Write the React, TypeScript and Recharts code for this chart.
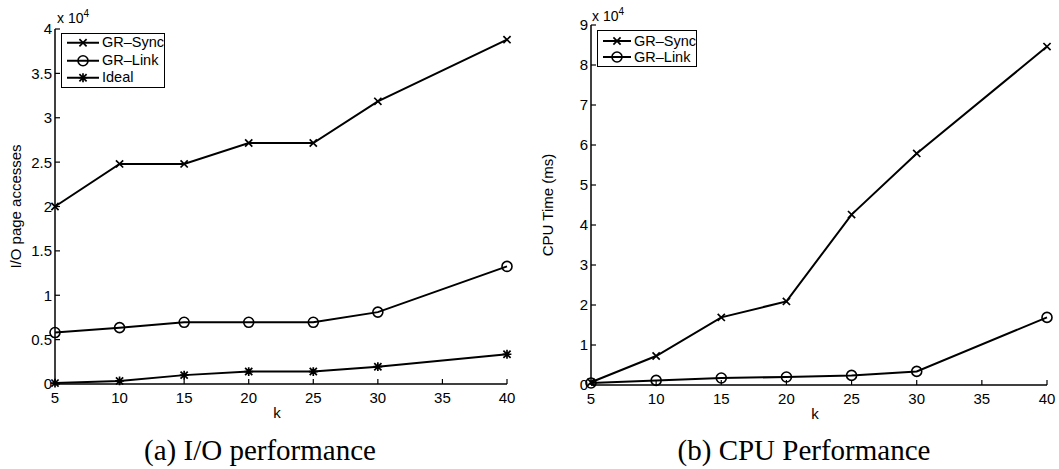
import React from 'react';
import { LineChart, Line, XAxis, YAxis, Legend } from 'recharts';

// k values on the x axis
const kValues = [5, 10, 15, 20, 25, 30, 40];
const kTicks = [5, 10, 15, 20, 25, 30, 35, 40];

// (a) I/O page accesses
const ioSync = [20000, 24800, 24800, 27150, 27150, 31850, 38800];
const ioLink = [5800, 6350, 6950, 6950, 6950, 8100, 13250];
const ioIdeal = [100, 350, 1000, 1400, 1400, 1950, 3350];
const ioTicks = [0, 5000, 10000, 15000, 20000, 25000, 30000, 35000, 40000];

// (b) CPU time (ms)
const cpuSync = [700, 7250, 16900, 20900, 42600, 57900, 84600];
const cpuLink = [500, 1150, 1750, 2000, 2400, 3400, 16900];
const cpuTicks = [0, 10000, 20000, 30000, 40000, 50000, 60000, 70000, 80000, 90000];

const seriesOrder = ['GR–Sync', 'GR–Link', 'Ideal'];

const ioData = kValues.map((k, i) => ({ k, sync: ioSync[i], link: ioLink[i], ideal: ioIdeal[i] }));
const cpuData = kValues.map((k, i) => ({ k, sync: cpuSync[i], link: cpuLink[i] }));

const FONT = '"Liberation Sans", Arial, Helvetica, sans-serif';
const SERIF = '"Liberation Serif", "Times New Roman", serif';

type Kind = 'x' | 'o' | '*';

const kinds: Record<string, Kind> = {
  'GR–Sync': 'x',
  'GR–Link': 'o',
  'Ideal': '*',
};

const Marker = ({ kind, cx, cy }: { kind: Kind; cx: number; cy: number }) => {
  if (kind === 'o') {
    return <circle cx={cx} cy={cy} r={5} fill="none" stroke="#000" strokeWidth={1.6} />;
  }
  const s = 3.6;
  let d = `M${cx - s},${cy - s}L${cx + s},${cy + s}M${cx - s},${cy + s}L${cx + s},${cy - s}`;
  if (kind === '*') {
    const t = 4.4;
    d += `M${cx},${cy - t}L${cx},${cy + t}M${cx - t},${cy}L${cx + t},${cy}`;
  }
  return <path d={d} fill="none" stroke="#000" strokeWidth={1.7} />;
};

const dotFor = (kind: Kind) => (p: any) => (
  <Marker key={`${kind}-${p.index}`} kind={kind} cx={p.cx} cy={p.cy} />
);

const LegendBox = ({ payload, rowH, lineLen, padTop }: any) => {
  const items = [...(payload || [])].sort(
    (a: any, b: any) => seriesOrder.indexOf(a.value) - seriesOrder.indexOf(b.value)
  );
  return (
    <div
      style={{
        border: '1.5px solid #000',
        background: '#fff',
        padding: `${padTop}px 0 ${padTop}px 4px`,
        fontFamily: FONT,
        fontSize: 14.5,
        lineHeight: `${rowH}px`,
        color: '#000',
      }}
    >
      {items.map((entry: any) => (
        <div key={entry.value} style={{ display: 'flex', alignItems: 'center', height: rowH, whiteSpace: 'nowrap' }}>
          <svg width={lineLen + 2} height={rowH}>
            <line x1={1} y1={rowH / 2} x2={lineLen + 1} y2={rowH / 2} stroke="#000" strokeWidth={2} />
            <Marker kind={kinds[entry.value]} cx={lineLen / 2 + 1} cy={rowH / 2} />
          </svg>
          <span style={{ marginLeft: 2 }}>{entry.value}</span>
        </div>
      ))}
    </div>
  );
};

const TICK = 5;

// MATLAB-style inward ticks: tick line drawn inside the box, label outside
const bottomTick = (plotBottom: number) => (p: any) => {
  const c = p.payload.coordinate;
  return (
    <g>
      <line x1={c} x2={c} y1={plotBottom} y2={plotBottom - TICK} stroke="#000" strokeWidth={1.2} />
      <text x={c} y={plotBottom + 19} textAnchor="middle" fill="#000" fontSize={15} fontFamily={FONT}>
        {p.payload.value}
      </text>
    </g>
  );
};

const topTick = (plotTop: number) => (p: any) => {
  const c = p.payload.coordinate;
  return <line x1={c} x2={c} y1={plotTop} y2={plotTop + TICK} stroke="#000" strokeWidth={1.2} />;
};

const leftTick = (plotLeft: number) => (p: any) => {
  const c = p.payload.coordinate;
  return (
    <g>
      <line x1={plotLeft} x2={plotLeft + TICK} y1={c} y2={c} stroke="#000" strokeWidth={1.2} />
      <text x={plotLeft - 3} y={c} dy="0.36em" textAnchor="end" fill="#000" fontSize={15} fontFamily={FONT}>
        {String(p.payload.value / 10000)}
      </text>
    </g>
  );
};

const rightTick = (plotRight: number) => (p: any) => {
  const c = p.payload.coordinate;
  return <line x1={plotRight} x2={plotRight - TICK} y1={c} y2={c} stroke="#000" strokeWidth={1.2} />;
};

const labelStyle = { fill: '#000', fontSize: 15, fontFamily: FONT };

const Exponent = ({ left, top }: { left: number; top: number }) => (
  <div style={{ position: 'absolute', left, top, fontFamily: FONT, fontSize: 14, lineHeight: 1, color: '#000' }}>
    x 10<sup style={{ fontSize: 10, verticalAlign: 6 }}>4</sup>
  </div>
);

const Caption = ({ center, text }: { center: number; text: string }) => (
  <div
    style={{
      position: 'absolute',
      left: center - 200,
      width: 400,
      top: 436,
      textAlign: 'center',
      fontFamily: SERIF,
      fontSize: 29,
      lineHeight: 1,
      color: '#000',
    }}
  >
    {text}
  </div>
);

type PanelProps = {
  data: any[];
  width: number;
  height: number;
  plot: { top: number; bottom: number; left: number; right: number };
  yMax: number;
  yTicks: number[];
  yLabel: string;
  labelDx: number;
  series: { key: string; name: string; kind: Kind }[];
  legendPos: { left: number; top: number };
  legendRow: number;
  legendLine: number;
  legendPad: number;
};

const Panel = ({ data, width, height, plot, yMax, yTicks, yLabel, labelDx, series, legendPos, legendRow, legendLine, legendPad }: PanelProps) => (
  <LineChart
    width={width}
    height={height}
    data={data}
    margin={{ top: plot.top, right: width - plot.right, bottom: height - plot.bottom - 36, left: 0 }}
  >
    <XAxis
      dataKey="k"
      type="number"
      domain={[5, 40]}
      ticks={kTicks}
      interval={0}
      height={36}
      stroke="#000"
      strokeWidth={1.5}
      tickLine={false}
      tick={bottomTick(plot.bottom)}
      label={{ value: 'k', position: 'insideBottom', offset: 2, dx: -4, ...labelStyle }}
    />
    <XAxis xAxisId="top" orientation="top" type="number" domain={[5, 40]} ticks={kTicks} interval={0}
      height={0} tickLine={false} tick={topTick(plot.top)} stroke="#000" strokeWidth={1.5} />
    <YAxis
      type="number"
      domain={[0, yMax]}
      ticks={yTicks}
      interval={0}
      width={plot.left}
      stroke="#000"
      strokeWidth={1.5}
      tickLine={false}
      tick={leftTick(plot.left)}
      label={{ value: yLabel, angle: -90, position: 'center', dx: labelDx, ...labelStyle }}
    />
    <YAxis yAxisId="right" orientation="right" type="number" domain={[0, yMax]} ticks={yTicks} interval={0}
      width={0} tickLine={false} tick={rightTick(plot.right)} stroke="#000" strokeWidth={1.5} />
    <Legend
      layout="horizontal"
      verticalAlign="middle"
      align="center"
      wrapperStyle={{ left: legendPos.left, top: legendPos.top, width: 'auto' }}
      content={(props: any) => <LegendBox payload={props.payload} rowH={legendRow} lineLen={legendLine} padTop={legendPad} />}
    />
    {series.map((s) => (
      <Line
        key={s.key}
        dataKey={s.key}
        name={s.name}
        stroke="#000"
        strokeWidth={2}
        dot={dotFor(s.kind)}
        activeDot={false}
        isAnimationActive={false}
      />
    ))}
  </LineChart>
);

const App = () => (
  <div style={{ position: 'absolute', left: 0, top: 0, width: 1059, height: 469, background: '#fff' }}>
    <div style={{ position: 'absolute', left: 0, top: 0 }}>
      <Panel
        data={ioData}
        width={530}
        height={430}
        plot={{ top: 29, bottom: 384, left: 55, right: 507 }}
        yMax={40000}
        yTicks={ioTicks}
        yLabel="I/O page accesses"
        labelDx={-12}
        series={[
          { key: 'sync', name: 'GR–Sync', kind: 'x' },
          { key: 'link', name: 'GR–Link', kind: 'o' },
          { key: 'ideal', name: 'Ideal', kind: '*' },
        ]}
        legendPos={{ left: 61, top: 33 }}
        legendRow={17.5}
        legendLine={32}
        legendPad={0}
      />
    </div>
    <Exponent left={57} top={9} />
    <Caption center={260} text="(a) I/O performance" />

    <div style={{ position: 'absolute', left: 530, top: 0 }}>
      <Panel
        data={cpuData}
        width={529}
        height={431}
        plot={{ top: 25, bottom: 385, left: 61, right: 517 }}
        yMax={90000}
        yTicks={cpuTicks}
        yLabel="CPU Time (ms)"
        labelDx={-12.5}
        series={[
          { key: 'sync', name: 'GR–Sync', kind: 'x' },
          { key: 'link', name: 'GR–Link', kind: 'o' },
        ]}
        legendPos={{ left: 67, top: 30 }}
        legendRow={16}
        legendLine={28}
        legendPad={1.5}
      />
    </div>
    <Exponent left={592} top={7} />
    <Caption center={804} text="(b) CPU Performance" />
  </div>
);

export default App;
